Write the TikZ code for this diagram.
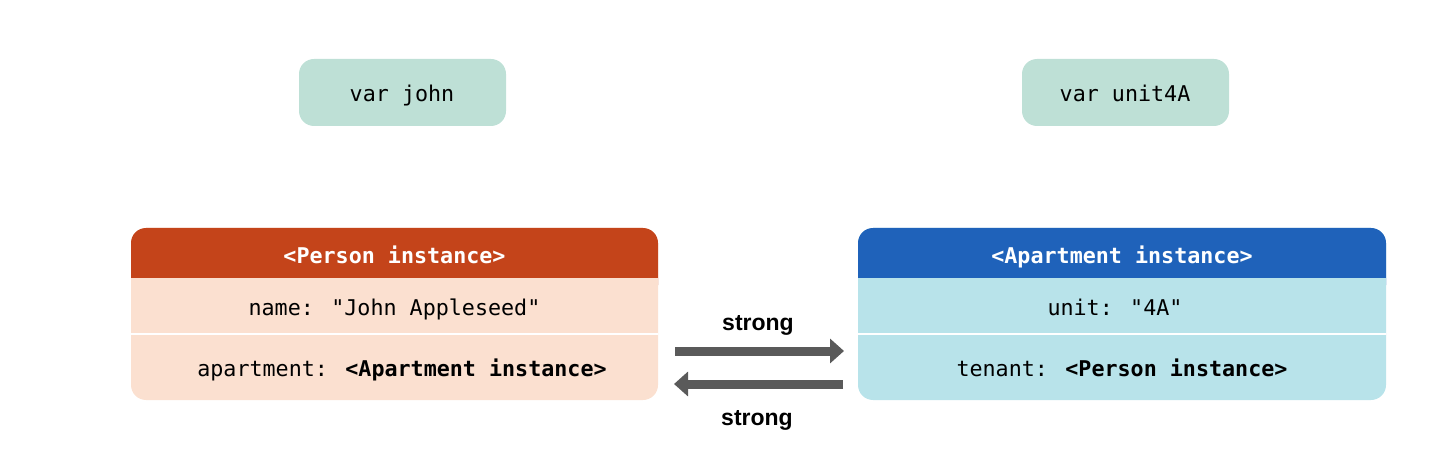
\documentclass[tikz,border=0pt]{standalone}
\usepackage{fontspec}
\setmainfont{Liberation Sans}
\newfontfamily\codefont{DejaVu Sans Mono}
\usetikzlibrary{arrows.meta}
\definecolor{varcol}{RGB}{190,224,214}
\definecolor{perhead}{RGB}{196,68,26}
\definecolor{perbody}{RGB}{251,224,208}
\definecolor{apthead}{RGB}{31,98,186}
\definecolor{aptbody}{RGB}{184,227,234}
\definecolor{arrcol}{RGB}{90,90,90}
\tikzset{
  code/.style={font=\codefont\fontsize{21.7}{24}\selectfont, text=black, inner sep=0pt, anchor=base},
  headtext/.style={font=\codefont\bfseries\fontsize{21.7}{24}\selectfont, text=white, inner sep=0pt, anchor=base},
  varbox/.style={fill=varcol, rounded corners=15pt, minimum width=207pt, minimum height=67pt, inner sep=0pt},
  vartext/.style={font=\codefont\fontsize{21.7}{24}\selectfont, inner sep=0pt, anchor=base},
  lbl/.style={font=\bfseries\fontsize{23}{26}\selectfont, inner sep=0pt, anchor=base},
  strongarrow/.style={draw=arrcol, line width=9pt, -{Triangle[width=24pt,length=14pt]}},
}
\begin{document}
\begin{tikzpicture}[x=1pt,y=-1pt]
\useasboundingbox (0,0) rectangle (1450,454);
% variables
\node[varbox] (john) at (402.5,92.5) {};
\node[vartext] at (402,101.5) {var john};
\node[varbox] (unit) at (1125.5,92.5) {};
\node[vartext] at (1125,101.5) {var unit4A};
% Person instance box
\fill[perbody, rounded corners=15pt] (131,228) rectangle (658,400);
\fill[perhead, rounded corners=15pt] (131,228) rectangle (658,300);
\fill[perbody] (131,278) rectangle (658,301);
\draw[white, line width=2pt] (131,334) -- (658,334);
\node[headtext] (phead) at (394.5,263.5) {<Person instance>};
\node[code] (pname) at (394.5,315) {name: "John Appleseed"};
\node[code] (papt) at (402,376) {apartment: \textbf{<Apartment instance>}};
% Apartment instance box
\fill[aptbody, rounded corners=15pt] (858,228) rectangle (1386,400);
\fill[apthead, rounded corners=15pt] (858,228) rectangle (1386,300);
\fill[aptbody] (858,278) rectangle (1386,301);
\draw[white, line width=2pt] (858,334) -- (1386,334);
\node[headtext] (ahead) at (1122,263.5) {<Apartment instance>};
\node[code] (aunit) at (1115,315) {unit: "4A"};
\node[code] (aten) at (1122,376) {tenant: \textbf{<Person instance>}};
% arrows
\coordinate (pR1) at (675,351);
\coordinate (aL1) at (844,351);
\coordinate (aL2) at (843,384);
\coordinate (pR2) at (674,384);
\draw[strongarrow] (pR1) -- (aL1);
\draw[strongarrow] (aL2) -- (pR2);
\node[lbl] (s1) at (758,330) {strong};
\node[lbl] (s2) at (757,425.5) {strong};
\end{tikzpicture}
\end{document}
